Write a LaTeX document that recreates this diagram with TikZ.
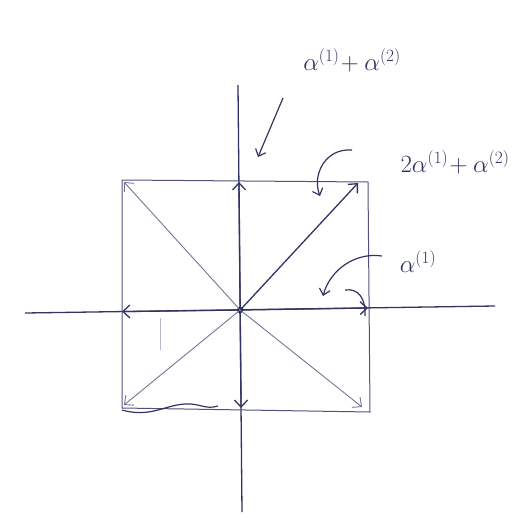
\documentclass[tikz,border=0pt]{standalone}
\usetikzlibrary{arrows.meta}
\definecolor{ink}{RGB}{50,52,100}
\definecolor{lightink}{RGB}{115,118,150}
\tikzset{
  ax/.style={draw=ink, line width=1.3pt},
  sq/.style={draw=ink!85, line width=1pt},
  root/.style={draw=ink, line width=1.3pt, -{Straight Barb[length=7pt,width=13pt]}},
  rootlight/.style={draw=lightink, line width=0.9pt, -{Straight Barb[length=7pt,width=13pt]}},
  pointer/.style={draw=ink, line width=1.2pt, -{Straight Barb[length=6pt,width=11pt]}},
  lab/.style={text=ink, font=\fontsize{25}{30}\selectfont, inner sep=1pt}
}
\begin{document}
\begin{tikzpicture}[x=1pt,y=-1pt]
\useasboundingbox (0,0) rectangle (527,528);
% axes
\coordinate (xl) at (25,313);
\coordinate (xr) at (495,306);
\coordinate (yt) at (238,85);
\coordinate (yb) at (242,512);
\draw[ax] (xl) -- (xr);
\draw[ax] (yt) -- (yb);
% square
\coordinate (tl) at (122,180);
\coordinate (tr) at (368,182);
\coordinate (br) at (370,412);
\coordinate (bl) at (122,408);
\draw[sq] (tl) -- (tr) -- (br) -- (bl) -- cycle;
% origin
\node[circle, fill=black, inner sep=2.2pt] (o) at (240.2,310) {};
% roots
\coordinate (a1) at (368,308);
\coordinate (a2) at (239,182);
\coordinate (a3) at (358,183);
\coordinate (na1) at (122,311.6);
\coordinate (na2) at (241.1,408);
\coordinate (na3) at (124,405);
\coordinate (c1) at (124,182);
\coordinate (c2) at (362,407);
\draw[root] (o.center) -- (a1);
\draw[root] (o.center) -- (a2);
\draw[root] (o.center) -- (a3);
\draw[root] (o.center) -- (na1);
\draw[root] (o.center) -- (na2);
\draw[rootlight] (o.center) -- (na3);
\draw[rootlight] (o.center) -- (c1);
\draw[rootlight] (o.center) -- (c2);
% faint tick and wavy line
\draw[lightink!50, line width=0.6pt] (160,318) -- (160,350);
\draw[ink, line width=1.2pt] (122,410) .. controls (150,418) and (165,405) .. (185,404) .. controls (200,403) and (205,410) .. (218,406);
% labels
\node[lab] (l12) at (352,60) {$\alpha^{(1)}\!+\alpha^{(2)}$};
\node[lab] (l212) at (455,162) {$2\alpha^{(1)}\!+\alpha^{(2)}$};
\node[lab] (l1) at (418,262) {$\alpha^{(1)}$};
% pointers
\coordinate (p1s) at (283,98);
\coordinate (p1e) at (258,157);
\draw[pointer] (p1s) -- (p1e);
\coordinate (p2s) at (352,150);
\coordinate (p2e) at (320,196);
\draw[pointer] (p2s) .. controls (325,148) and (312,175) .. (p2e);
\coordinate (p3s) at (382,256);
\coordinate (p3e) at (323,296);
\draw[pointer] (p3s) .. controls (355,252) and (330,270) .. (p3e);
\draw[ink, line width=1.2pt] (345,290) .. controls (358,288) and (366,298) .. (365,316);
\end{tikzpicture}
\end{document}
